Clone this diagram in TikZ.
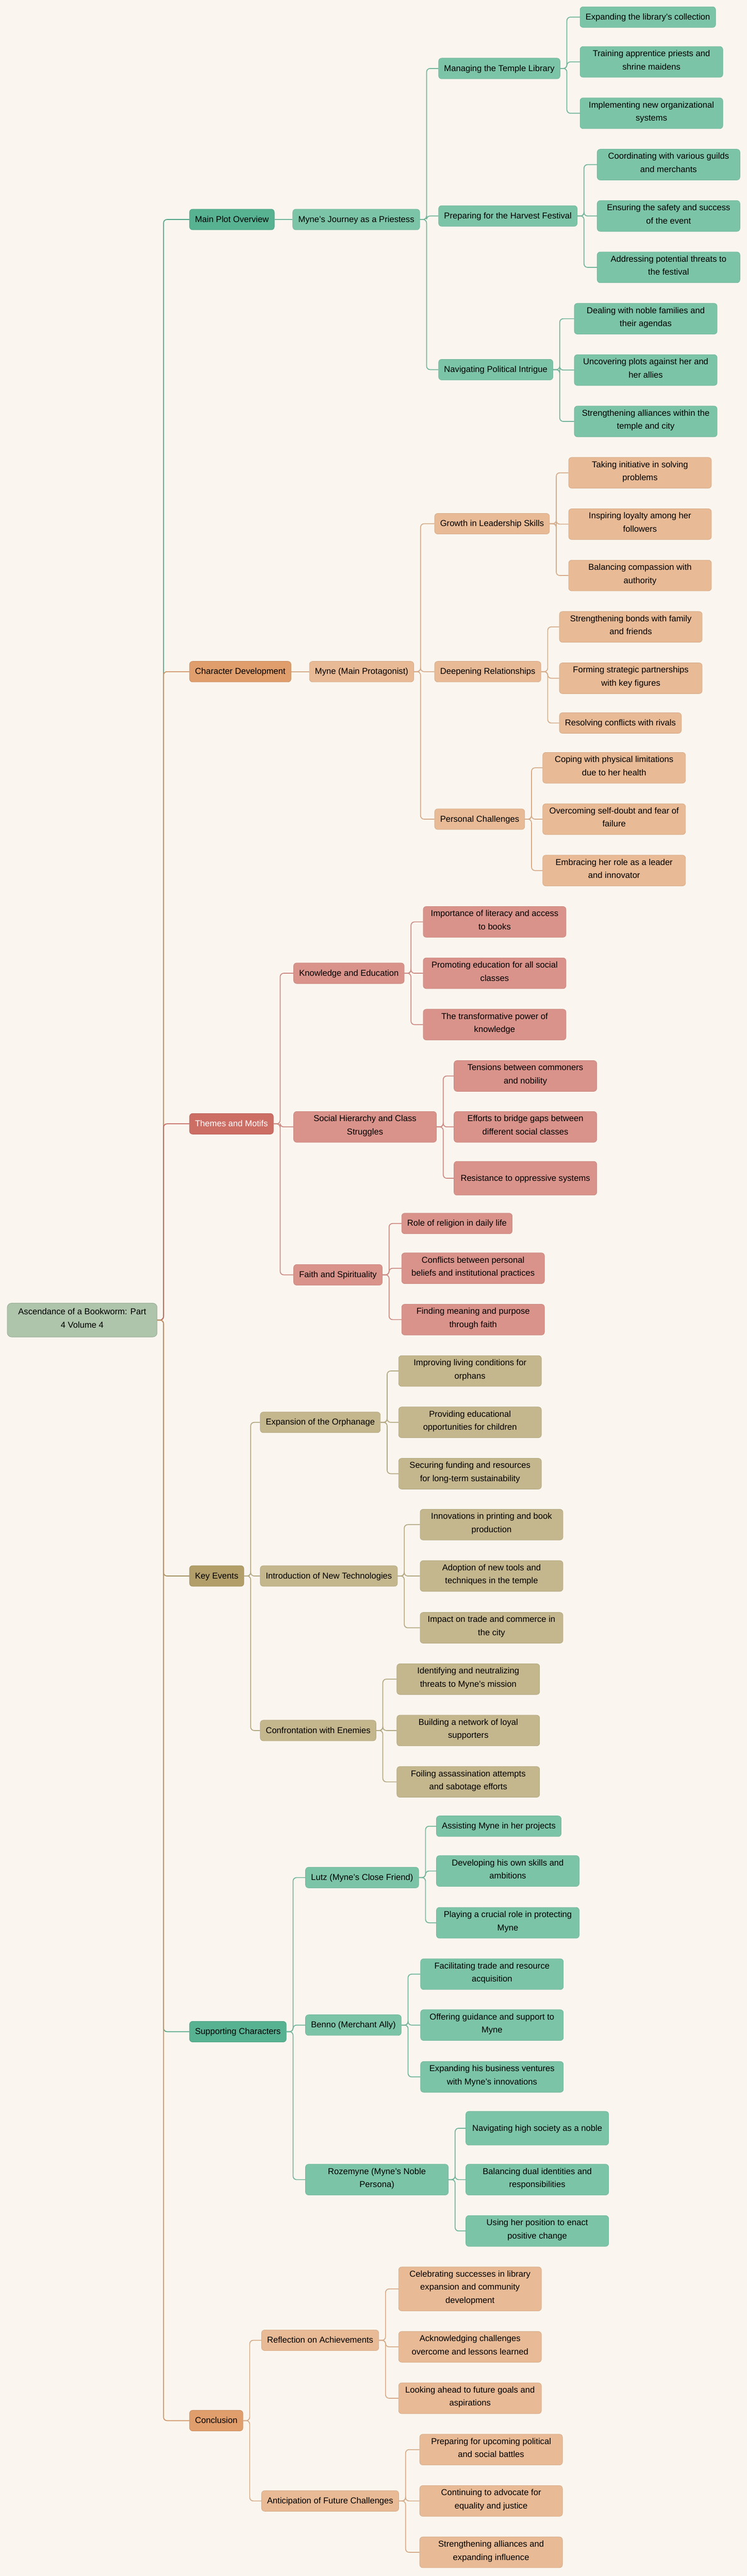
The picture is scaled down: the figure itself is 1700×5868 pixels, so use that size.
\documentclass[tikz,border=0pt]{standalone}
\usepackage{fontspec}
\setmainfont{Liberation Sans}
\usepackage{tikz}
\usetikzlibrary{calc}
\usepackage{xcolor}

\definecolor{fond}{HTML}{FAF6EF}
\definecolor{racinec}{HTML}{AEC4AB}
\definecolor{vertf}{HTML}{57B292}
\definecolor{vertc}{HTML}{7CC4A8}
\definecolor{orangef}{HTML}{E09E6C}
\definecolor{orangec}{HTML}{E8BA96}
\definecolor{rougef}{HTML}{CD6E65}
\definecolor{rougec}{HTML}{D9938B}
\definecolor{ocref}{HTML}{B29E69}
\definecolor{ocrec}{HTML}{C4B68D}

\tikzstyle{boite} = [rectangle, rounded corners=7pt, anchor=west, line width=1pt, inner xsep=12.5pt, inner ysep=8.5pt, align=center, font=\fontsize{19.5}{30}\selectfont, execute at begin node=\strut, execute at end node=\strut]
\tikzstyle{racine} = [boite, fill=racinec, draw=racinec!88!black, rounded corners=10pt, inner xsep=25pt, inner ysep=12pt]
\tikzstyle{vertfonce} = [boite, fill=vertf, draw=vertf!90!black]
\tikzstyle{vertclair} = [boite, fill=vertc, draw=vertc!93!black]
\tikzstyle{orangefonce} = [boite, fill=orangef, draw=orangef!90!black]
\tikzstyle{orangeclair} = [boite, fill=orangec, draw=orangec!93!black]
\tikzstyle{rougefonce} = [boite, fill=rougef, draw=rougef!90!black, text=white]
\tikzstyle{rougeclair} = [boite, fill=rougec, draw=rougec!93!black]
\tikzstyle{ocrefonce} = [boite, fill=ocref, draw=ocref!90!black]
\tikzstyle{ocreclair} = [boite, fill=ocrec, draw=ocrec!93!black]
\tikzstyle{large} = [minimum width=325pt]
\tikzstyle{haute} = [minimum height=77pt]
\tikzstyle{troncvert} = [draw=vertf!92!black, line width=2pt, rounded corners=8pt]
\tikzstyle{troncorange} = [draw=orangef!92!black, line width=2pt, rounded corners=8pt]
\tikzstyle{troncrouge} = [draw=rougef!95!black, line width=2pt, rounded corners=8pt]
\tikzstyle{troncocre} = [draw=ocref!92!black, line width=2pt, rounded corners=8pt]
\tikzstyle{lienvert} = [draw=vertc!92!black, line width=2pt, rounded corners=8pt]
\tikzstyle{lienorange} = [draw=orangec!92!black, line width=2pt, rounded corners=8pt]
\tikzstyle{lienrouge} = [draw=rougec!94!black, line width=2pt, rounded corners=8pt]
\tikzstyle{lienocre} = [draw=ocrec!92!black, line width=2pt, rounded corners=8pt]

\begin{document}
\begin{tikzpicture}[x=1pt, y=-1pt]

        \fill[fond] (0,0) rectangle (1700,5868);
        \useasboundingbox (0,0) rectangle (1700,5868);

        \node (titre) [racine] at (16,3007) {Ascendance of a Bookworm: Part\\4 Volume 4};

        % main plot
        \node (plot) [vertfonce] at (431,500) {Main Plot Overview};
        \node (journey) [vertclair] at (666,500) {Myne's Journey as a Priestess};

        \node (library) [vertclair] at (998,156) {Managing the Temple Library};
        \node (harvest) [vertclair] at (998,492) {Preparing for the Harvest Festival};
        \node (politic) [vertclair] at (998,842) {Navigating Political Intrigue};

        \node (expand) [vertclair] at (1320,39) {Expanding the library's collection};
        \node (train) [vertclair, large] at (1320,141) {Training apprentice priests and\\shrine maidens};
        \node (implement) [vertclair, large] at (1320,258) {Implementing new organizational\\systems};
        \node (coord) [vertclair, large] at (1359,375) {Coordinating with various guilds\\and merchants};
        \node (ensure) [vertclair, large] at (1359,492) {Ensuring the safety and success\\of the event};
        \node (address) [vertclair, large] at (1359,609) {Addressing potential threats to\\the festival};
        \node (dealing) [vertclair, large] at (1307,726) {Dealing with noble families and\\their agendas};
        \node (uncover) [vertclair, large] at (1307,843) {Uncovering plots against her and\\her allies};
        \node (strengthen) [vertclair, large] at (1307,960) {Strengthening alliances within the\\temple and city};

        % character development
        \node (chardev) [orangefonce] at (431,1530) {Character Development};
        \node (myne) [orangeclair] at (704,1530) {Myne (Main Protagonist)};

        \node (growth) [orangeclair] at (989,1193) {Growth in Leadership Skills};
        \node (deepen) [orangeclair] at (989,1530) {Deepening Relationships};
        \node (personal) [orangeclair] at (989,1866) {Personal Challenges};

        \node (initiative) [orangeclair, large] at (1294,1077) {Taking initiative in solving\\problems};
        \node (loyalty) [orangeclair, large] at (1294,1194) {Inspiring loyalty among her\\followers};
        \node (compassion) [orangeclair, large] at (1294,1311) {Balancing compassion with\\authority};
        \node (bonds) [orangeclair, large] at (1273,1428) {Strengthening bonds with family\\and friends};
        \node (partner) [orangeclair, large] at (1273,1545) {Forming strategic partnerships\\with key figures};
        \node (rivals) [orangeclair] at (1273,1647) {Resolving conflicts with rivals};
        \node (coping) [orangeclair, large] at (1235,1749) {Coping with physical limitations\\due to her health};
        \node (selfdoubt) [orangeclair, large] at (1235,1866) {Overcoming self-doubt and fear of\\failure};
        \node (embrace) [orangeclair, large] at (1235,1983) {Embracing her role as a leader\\and innovator};

        % themes
        \node (themes) [rougefonce] at (431,2560) {Themes and Motifs};

        \node (knowledge) [rougeclair] at (668,2217) {Knowledge and Education};
        \node (social) [rougeclair, large] at (668,2567) {Social Hierarchy and Class\\Struggles};
        \node (faith) [rougeclair] at (668,2904) {Faith and Spirituality};

        \node (literacy) [rougeclair, large] at (963,2100) {Importance of literacy and access\\to books};
        \node (promote) [rougeclair, large] at (963,2217) {Promoting education for all social\\classes};
        \node (power) [rougeclair, large] at (963,2334) {The transformative power of\\knowledge};
        \node (tension) [rougeclair, large] at (1033,2451) {Tensions between commoners\\and nobility};
        \node (bridge) [rougeclair, large] at (1033,2567) {Efforts to bridge gaps between\\different social classes};
        \node (resist) [rougeclair, large, haute] at (1033,2684) {Resistance to oppressive systems};
        \node (religion) [rougeclair] at (914,2787) {Role of religion in daily life};
        \node (conflict) [rougeclair, large] at (914,2889) {Conflicts between personal\\beliefs and institutional practices};
        \node (meaning) [rougeclair, large] at (914,3006) {Finding meaning and purpose\\through faith};

        % key events
        \node (events) [ocrefonce] at (431,3590) {Key Events};

        \node (orphan) [ocreclair] at (592,3240) {Expansion of the Orphanage};
        \node (techno) [ocreclair] at (592,3590) {Introduction of New Technologies};
        \node (enemies) [ocreclair] at (592,3942) {Confrontation with Enemies};

        \node (living) [ocreclair, large] at (907,3123) {Improving living conditions for\\orphans};
        \node (educ) [ocreclair, large] at (907,3240) {Providing educational\\opportunities for children};
        \node (funding) [ocreclair, large] at (907,3357) {Securing funding and resources\\for long-term sustainability};
        \node (printing) [ocreclair, large] at (956,3473) {Innovations in printing and book\\production};
        \node (tools) [ocreclair, large] at (956,3590) {Adoption of new tools and\\techniques in the temple};
        \node (trade) [ocreclair, large] at (956,3708) {Impact on trade and commerce in\\the city};
        \node (threats) [ocreclair, large] at (903,3825) {Identifying and neutralizing\\threats to Myne's mission};
        \node (network) [ocreclair, large] at (903,3942) {Building a network of loyal\\supporters};
        \node (foiling) [ocreclair, large] at (903,4059) {Foiling assassination attempts\\and sabotage efforts};

        % supporting characters
        \node (support) [vertfonce] at (431,4628) {Supporting Characters};

        \node (lutz) [vertclair] at (695,4277) {Lutz (Myne's Close Friend)};
        \node (benno) [vertclair] at (695,4613) {Benno (Merchant Ally)};
        \node (rozemyne) [vertclair, large] at (695,4965) {Rozemyne (Myne's Noble\\Persona)};

        \node (assist) [vertclair] at (993,4160) {Assisting Myne in her projects};
        \node (skills) [vertclair, large] at (993,4262) {Developing his own skills and\\ambitions};
        \node (protect) [vertclair, large] at (993,4380) {Playing a crucial role in protecting\\Myne};
        \node (facil) [vertclair, large] at (957,4497) {Facilitating trade and resource\\acquisition};
        \node (guidance) [vertclair, large] at (957,4613) {Offering guidance and support to\\Myne};
        \node (ventures) [vertclair, large] at (957,4731) {Expanding his business ventures\\with Myne's innovations};
        \node (society) [vertclair, large, haute] at (1060,4848) {Navigating high society as a noble};
        \node (dual) [vertclair, large] at (1060,4965) {Balancing dual identities and\\responsibilities};
        \node (position) [vertclair, large] at (1060,5082) {Using her position to enact\\positive change};

        % conclusion
        \node (concl) [orangefonce] at (431,5514) {Conclusion};

        \node (reflect) [orangeclair] at (595,5331) {Reflection on Achievements};
        \node (anticip) [orangeclair] at (595,5697) {Anticipation of Future Challenges};

        \node (celebrate) [orangeclair, large] at (907,5214) {Celebrating successes in library\\expansion and community\\development};
        \node (acknowledge) [orangeclair, large] at (907,5346) {Acknowledging challenges\\overcome and lessons learned};
        \node (ahead) [orangeclair, large] at (907,5463) {Looking ahead to future goals and\\aspirations};
        \node (prepare) [orangeclair, large] at (955,5580) {Preparing for upcoming political\\and social battles};
        \node (advocate) [orangeclair, large] at (955,5697) {Continuing to advocate for\\equality and justice};
        \node (alliances) [orangeclair, large] at (955,5814) {Strengthening alliances and\\expanding influence};

        % links from the root
        \draw[troncvert] (titre.east) -- ++(14,0) |- (plot.west);
        \draw[troncorange] (titre.east) -- ++(14,0) |- (chardev.west);
        \draw[troncrouge] (titre.east) -- ++(14,0) |- (themes.west);
        \draw[troncocre] (titre.east) -- ++(14,0) |- (events.west);
        \draw[troncvert] (titre.east) -- ++(14,0) |- (support.west);
        \draw[troncorange] (titre.east) -- ++(14,0) |- (concl.west);

        \draw[lienvert] (plot) -- (journey);
        \draw[lienvert] (journey.east) -- ++(15,0) |- (library.west);
        \draw[lienvert] (journey.east) -- ++(15,0) |- (harvest.west);
        \draw[lienvert] (journey.east) -- ++(15,0) |- (politic.west);
        \draw[lienvert] (library.east) -- ++(15,0) |- (expand.west);
        \draw[lienvert] (library.east) -- ++(15,0) |- (train.west);
        \draw[lienvert] (library.east) -- ++(15,0) |- (implement.west);
        \draw[lienvert] (harvest.east) -- ++(15,0) |- (coord.west);
        \draw[lienvert] (harvest.east) -- ++(15,0) |- (ensure.west);
        \draw[lienvert] (harvest.east) -- ++(15,0) |- (address.west);
        \draw[lienvert] (politic.east) -- ++(15,0) |- (dealing.west);
        \draw[lienvert] (politic.east) -- ++(15,0) |- (uncover.west);
        \draw[lienvert] (politic.east) -- ++(15,0) |- (strengthen.west);

        \draw[lienorange] (chardev) -- (myne);
        \draw[lienorange] (myne.east) -- ++(15,0) |- (growth.west);
        \draw[lienorange] (myne.east) -- ++(15,0) |- (deepen.west);
        \draw[lienorange] (myne.east) -- ++(15,0) |- (personal.west);
        \draw[lienorange] (growth.east) -- ++(15,0) |- (initiative.west);
        \draw[lienorange] (growth.east) -- ++(15,0) |- (loyalty.west);
        \draw[lienorange] (growth.east) -- ++(15,0) |- (compassion.west);
        \draw[lienorange] (deepen.east) -- ++(15,0) |- (bonds.west);
        \draw[lienorange] (deepen.east) -- ++(15,0) |- (partner.west);
        \draw[lienorange] (deepen.east) -- ++(15,0) |- (rivals.west);
        \draw[lienorange] (personal.east) -- ++(15,0) |- (coping.west);
        \draw[lienorange] (personal.east) -- ++(15,0) |- (selfdoubt.west);
        \draw[lienorange] (personal.east) -- ++(15,0) |- (embrace.west);

        \draw[lienrouge] (themes.east) -- ++(15,0) |- (knowledge.west);
        \draw[lienrouge] (themes.east) -- ++(15,0) |- (social.west);
        \draw[lienrouge] (themes.east) -- ++(15,0) |- (faith.west);
        \draw[lienrouge] (knowledge.east) -- ++(15,0) |- (literacy.west);
        \draw[lienrouge] (knowledge.east) -- ++(15,0) |- (promote.west);
        \draw[lienrouge] (knowledge.east) -- ++(15,0) |- (power.west);
        \draw[lienrouge] (social.east) -- ++(15,0) |- (tension.west);
        \draw[lienrouge] (social.east) -- ++(15,0) |- (bridge.west);
        \draw[lienrouge] (social.east) -- ++(15,0) |- (resist.west);
        \draw[lienrouge] (faith.east) -- ++(15,0) |- (religion.west);
        \draw[lienrouge] (faith.east) -- ++(15,0) |- (conflict.west);
        \draw[lienrouge] (faith.east) -- ++(15,0) |- (meaning.west);

        \draw[lienocre] (events.east) -- ++(15,0) |- (orphan.west);
        \draw[lienocre] (events.east) -- ++(15,0) |- (techno.west);
        \draw[lienocre] (events.east) -- ++(15,0) |- (enemies.west);
        \draw[lienocre] (orphan.east) -- ++(15,0) |- (living.west);
        \draw[lienocre] (orphan.east) -- ++(15,0) |- (educ.west);
        \draw[lienocre] (orphan.east) -- ++(15,0) |- (funding.west);
        \draw[lienocre] (techno.east) -- ++(15,0) |- (printing.west);
        \draw[lienocre] (techno.east) -- ++(15,0) |- (tools.west);
        \draw[lienocre] (techno.east) -- ++(15,0) |- (trade.west);
        \draw[lienocre] (enemies.east) -- ++(15,0) |- (threats.west);
        \draw[lienocre] (enemies.east) -- ++(15,0) |- (network.west);
        \draw[lienocre] (enemies.east) -- ++(15,0) |- (foiling.west);

        \draw[lienvert] (support.east) -- ++(15,0) |- (lutz.west);
        \draw[lienvert] (support.east) -- ++(15,0) |- (benno.west);
        \draw[lienvert] (support.east) -- ++(15,0) |- (rozemyne.west);
        \draw[lienvert] (lutz.east) -- ++(15,0) |- (assist.west);
        \draw[lienvert] (lutz.east) -- ++(15,0) |- (skills.west);
        \draw[lienvert] (lutz.east) -- ++(15,0) |- (protect.west);
        \draw[lienvert] (benno.east) -- ++(15,0) |- (facil.west);
        \draw[lienvert] (benno.east) -- ++(15,0) |- (guidance.west);
        \draw[lienvert] (benno.east) -- ++(15,0) |- (ventures.west);
        \draw[lienvert] (rozemyne.east) -- ++(15,0) |- (society.west);
        \draw[lienvert] (rozemyne.east) -- ++(15,0) |- (dual.west);
        \draw[lienvert] (rozemyne.east) -- ++(15,0) |- (position.west);

        \draw[lienorange] (concl.east) -- ++(15,0) |- (reflect.west);
        \draw[lienorange] (concl.east) -- ++(15,0) |- (anticip.west);
        \draw[lienorange] (reflect.east) -- ++(15,0) |- (celebrate.west);
        \draw[lienorange] (reflect.east) -- ++(15,0) |- (acknowledge.west);
        \draw[lienorange] (reflect.east) -- ++(15,0) |- (ahead.west);
        \draw[lienorange] (anticip.east) -- ++(15,0) |- (prepare.west);
        \draw[lienorange] (anticip.east) -- ++(15,0) |- (advocate.west);
        \draw[lienorange] (anticip.east) -- ++(15,0) |- (alliances.west);

\end{tikzpicture}
\end{document}
